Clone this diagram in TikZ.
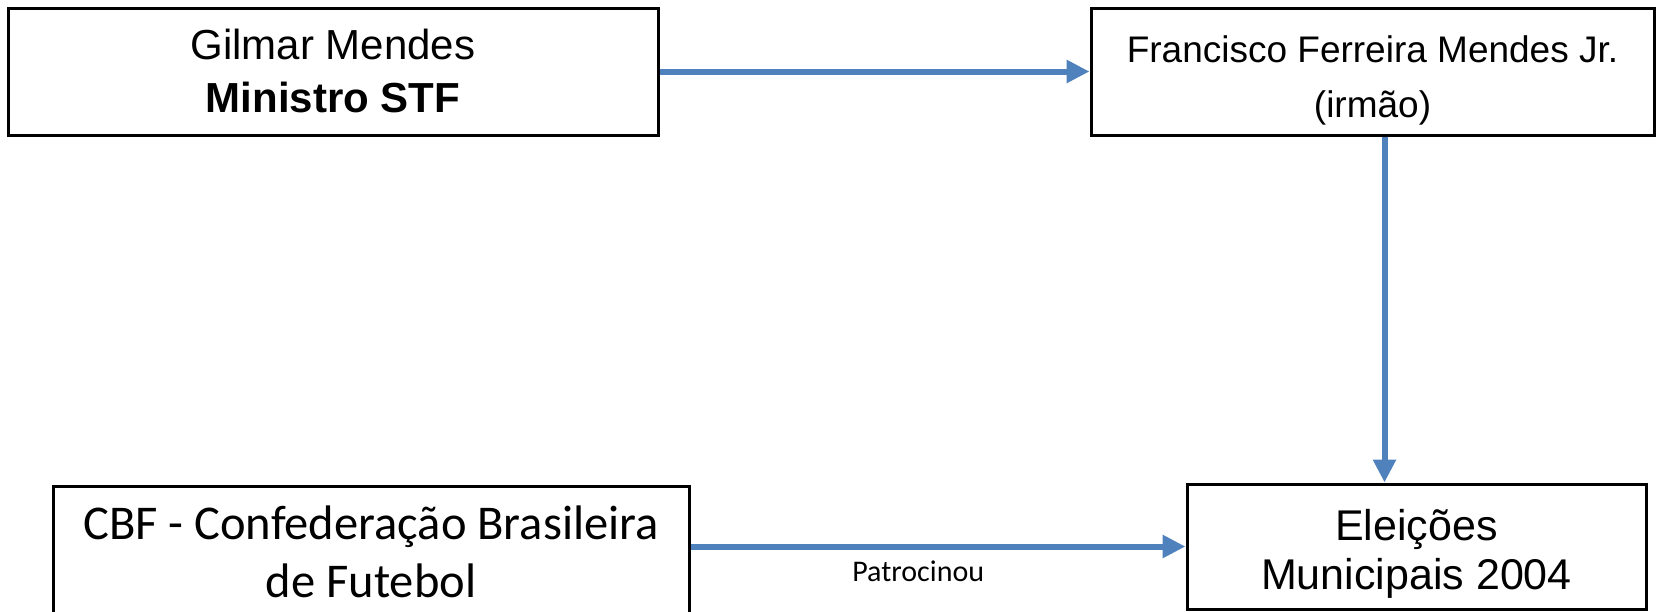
\documentclass[tikz,border=0pt]{standalone}
\usepackage{fontspec}
\setmainfont{Liberation Sans}
\newfontfamily\calibri{Carlito}
\usetikzlibrary{arrows.meta}

\definecolor{flowblue}{RGB}{79,129,189}

\begin{document}
\begin{tikzpicture}[x=1pt, y=-1pt]

    % let's fix the page first
    \useasboundingbox (0,0) rectangle (1657,611);

    % Styles
    \tikzstyle{box}=[draw=black, line width=3pt, inner sep=0pt]
    \tikzstyle{boxtext}=[inner sep=0pt, align=center]
    \tikzstyle{flow}=[draw=flowblue, line width=6pt,
        -{Triangle[length=23pt, width=22pt]}]

    % people on top
    \node[box, minimum width=650pt, minimum height=127pt]
        (gilmar) at (333,71.5) {};
    \node[boxtext, font={\fontsize{42}{53}\selectfont}]
        (gilmartext) at ([yshift=1pt]gilmar.center)
        {Gilmar Mendes\\\textbf{Ministro STF}};

    \node[box, minimum width=563pt, minimum height=127pt]
        (francisco) at (1372.5,71.5) {};
    \node[boxtext, font={\fontsize{37}{55}\selectfont}]
        (franciscotext) at ([yshift=-8.5pt]francisco.center)
        {Francisco Ferreira Mendes Jr.\\(irmão)};

    % bottom row
    \node[box, minimum width=636pt, minimum height=140pt]
        (cbf) at (371,556) {};
    \node[boxtext, font={\calibri\fontsize{48.5}{58}\selectfont}]
        (cbftext) at ([yshift=4pt]cbf.center)
        {CBF - Confederação Brasileira\\de Futebol};

    \node[box, minimum width=459pt, minimum height=125pt]
        (eleicoes) at (1416.5,546.5) {};
    \node[boxtext, font={\fontsize{43}{49}\selectfont}]
        (eleicoestext) at ([yshift=-7pt]eleicoes.center)
        {Eleições\\Municipais 2004};

    % brother
    \draw[flow] (gilmar.east) -- (francisco.west);

    % elections
    \draw[flow] ([xshift=12pt]francisco.south)
        -- ([xshift=12pt]francisco.south |- eleicoes.north);

    % sponsor
    \draw[flow] (cbf.east |- eleicoes.west) -- (eleicoes.west)
        node (patrocinou) [pos=0.46, below=8pt, text=black,
            font={\calibri\fontsize{30}{36}\selectfont}] {Patrocinou};

\end{tikzpicture}
\end{document}
